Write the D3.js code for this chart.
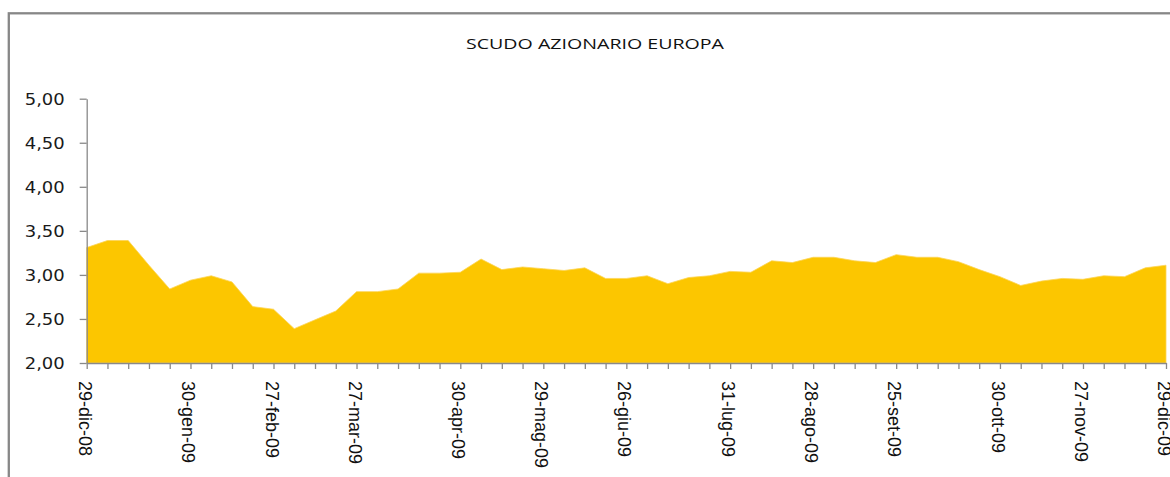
<!DOCTYPE html>
<html>
<head>
<meta charset="utf-8">
<script src="https://cdn.jsdelivr.net/npm/d3@7"></script>
<style>
  html, body { margin: 0; padding: 0; background: #ffffff; }
  svg { display: block; }
</style>
</head>
<body>
<svg id="chart" width="1170" height="477"></svg>
<script>
// ---- DATA ----
const title = "SCUDO AZIONARIO EUROPA";

const categories = [
  "29-dic-08", "2-gen-09", "9-gen-09", "16-gen-09", "23-gen-09", "30-gen-09",
  "6-feb-09", "13-feb-09", "20-feb-09", "27-feb-09",
  "6-mar-09", "13-mar-09", "20-mar-09", "27-mar-09",
  "3-apr-09", "9-apr-09", "17-apr-09", "24-apr-09", "30-apr-09",
  "8-mag-09", "15-mag-09", "22-mag-09", "29-mag-09",
  "5-giu-09", "12-giu-09", "19-giu-09", "26-giu-09",
  "3-lug-09", "10-lug-09", "17-lug-09", "24-lug-09", "31-lug-09",
  "7-ago-09", "14-ago-09", "21-ago-09", "28-ago-09",
  "4-set-09", "11-set-09", "18-set-09", "25-set-09",
  "2-ott-09", "9-ott-09", "16-ott-09", "23-ott-09", "30-ott-09",
  "6-nov-09", "13-nov-09", "20-nov-09", "27-nov-09",
  "4-dic-09", "11-dic-09", "18-dic-09", "29-dic-09"
];

const values = [
  3.31, 3.39, 3.39, 3.11, 2.84, 2.94,
  2.99, 2.92, 2.64, 2.61,
  2.39, 2.49, 2.59, 2.81,
  2.81, 2.84, 3.02, 3.02, 3.03,
  3.18, 3.06, 3.09, 3.07,
  3.05, 3.08, 2.96, 2.96,
  2.99, 2.90, 2.97, 2.99, 3.04,
  3.03, 3.16, 3.14, 3.20,
  3.20, 3.16, 3.14, 3.23,
  3.20, 3.20, 3.15, 3.06, 2.98,
  2.88, 2.93, 2.96, 2.95,
  2.99, 2.98, 3.08, 3.11
];

const xTickLabels = [
  "29-dic-08", "30-gen-09", "27-feb-09", "27-mar-09", "30-apr-09", "29-mag-09",
  "26-giu-09", "31-lug-09", "28-ago-09", "25-set-09", "30-ott-09", "27-nov-09", "29-dic-09"
];

const yTickValues = [2.0, 2.5, 3.0, 3.5, 4.0, 4.5, 5.0];
const yTickLabels = ["2,00", "2,50", "3,00", "3,50", "4,00", "4,50", "5,00"];

// ---- DRAW ----
const svg = d3.select("#chart");
const axisColor = "#898989";

// outer frame (extends past the window, as in the reference)
svg.append("rect")
  .attr("x", 8.8).attr("y", 13.3)
  .attr("width", 1300).attr("height", 600)
  .attr("fill", "none")
  .attr("stroke", "#878787")
  .attr("stroke-width", 2.3);

const x = d3.scalePoint().domain(categories).range([86.7, 1166]).padding(0);
const y = d3.scaleLinear().domain([2, 5]).range([363, 98.7]);

// title
svg.append("text")
  .attr("x", 595).attr("y", 49)
  .attr("text-anchor", "middle")
  .attr("font-family", "'Open Sans', sans-serif")
  .attr("font-size", 15)
  .attr("fill", "#111")
  .attr("textLength", 258)
  .attr("lengthAdjust", "spacingAndGlyphs")
  .text(title);

// area
const area = d3.area()
  .x((d, i) => x(categories[i]))
  .y0(y(2))
  .y1(d => y(d));

svg.append("path")
  .datum(values)
  .attr("d", area)
  .attr("fill", "#FCC600")
  .attr("stroke", "#FDD455")
  .attr("stroke-width", 0.8);

// y axis
const yAxis = d3.axisLeft(y)
  .tickValues(yTickValues)
  .tickFormat((d, i) => yTickLabels[i])
  .tickSize(7)
  .tickPadding(15)
  .tickSizeOuter(0);

const gy = svg.append("g")
  .attr("transform", "translate(86.7,0)")
  .call(yAxis);
gy.select(".domain").attr("stroke", axisColor).attr("stroke-width", 1.3);
gy.selectAll(".tick line").attr("stroke", axisColor).attr("stroke-width", 1.3);
gy.selectAll(".tick text")
  .attr("font-family", "'DejaVu Sans', sans-serif")
  .attr("font-size", 16)
  .attr("fill", "#1a1a1a")
  .attr("textLength", 40)
  .attr("lengthAdjust", "spacingAndGlyphs")
  .attr("dy", "0.36em");

// x axis: tick at every category
const xAxisTicks = d3.axisBottom(x)
  .tickValues(categories)
  .tickFormat("")
  .tickSize(6)
  .tickSizeOuter(0);

const gx = svg.append("g")
  .attr("transform", "translate(0,363)")
  .call(xAxisTicks);
gx.select(".domain").attr("stroke", axisColor).attr("stroke-width", 1.3);
gx.selectAll(".tick line").attr("stroke", axisColor).attr("stroke-width", 1.3);

// x axis labels (rotated)
const xAxisLabels = d3.axisBottom(x)
  .tickValues(xTickLabels)
  .tickSize(0)
  .tickPadding(0);

const gxl = svg.append("g")
  .attr("transform", "translate(0,363)")
  .call(xAxisLabels);
gxl.select(".domain").remove();
gxl.selectAll(".tick text")
  .attr("font-family", "'Liberation Sans', Arial, sans-serif")
  .attr("font-size", 18)
  .attr("fill", "#111")
  .attr("text-anchor", "start")
  .attr("dy", null)
  .attr("y", 0)
  .attr("dominant-baseline", "central")
  .attr("transform", "translate(-2.5,18) rotate(90)");
</script>
</body>
</html>
